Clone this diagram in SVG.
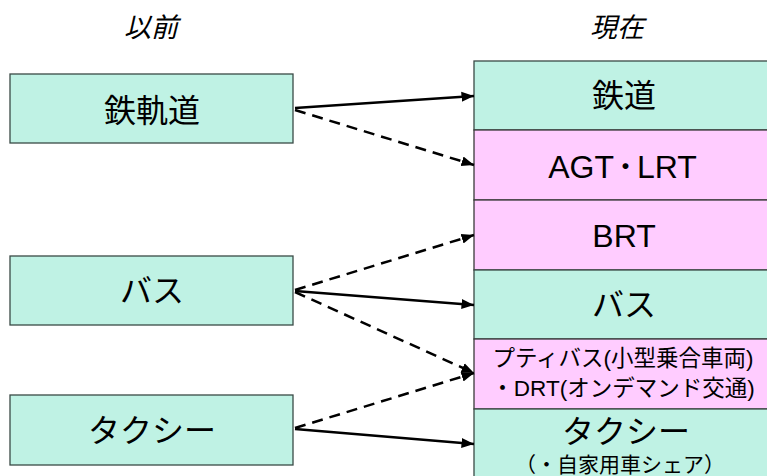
<svg xmlns="http://www.w3.org/2000/svg" width="767" height="476" viewBox="0 0 767 476">
<defs>
<style>
text{font-family:"Liberation Sans","Noto Sans CJK JP",sans-serif;fill:#000;text-anchor:middle}
.hd{font-size:27px;font-style:italic}
.t{font-size:32px}
.s{font-size:22.5px}
.s2{font-size:21px}
.g{fill:#BFF2E4;stroke:#3A4A46;stroke-width:1.3}
.p{fill:#FFCCFF;stroke:#3A3A3A;stroke-width:1.3}
.ln{stroke:#000;stroke-width:2.5;fill:none}
.d{stroke-dasharray:11,7}
</style>
<marker id="ah" viewBox="0 0 10 10" refX="10" refY="5" markerWidth="5" markerHeight="5" orient="auto" markerUnits="strokeWidth">
<path d="M0,1 L10,5 L0,9 Z" fill="#000"/>
</marker>
</defs>
<rect width="767" height="476" fill="#fff"/>
<text class="hd" x="151" y="37">以前</text>
<text class="hd" x="617" y="37">現在</text>
<g id="old-rail"><rect class="g" x="10" y="74" width="283" height="69"/><text class="t" x="152" y="122">鉄軌道</text></g>
<g id="old-bus"><rect class="g" x="10" y="256" width="283" height="69"/><text class="t" x="152" y="302">バス</text></g>
<g id="old-taxi"><rect class="g" x="10" y="395" width="283" height="70"/><text class="t" x="152" y="442">タクシー</text></g>
<g id="new-rail"><rect class="g" x="474" y="61" width="300" height="69"/><text class="t" x="624" y="107">鉄道</text></g>
<g id="new-agt"><rect class="p" x="474" y="130" width="300" height="70"/><text class="t" x="614" y="178" style="text-anchor:end">AGT</text><text x="614" y="175" style="text-anchor:start;font-size:23px;font-weight:bold">・</text><text class="t" x="637" y="178" style="text-anchor:start">LRT</text></g>
<g id="new-brt"><rect class="p" x="474" y="200" width="300" height="70"/><text class="t" x="624" y="247">BRT</text></g>
<g id="new-bus"><rect class="g" x="474" y="270" width="300" height="69"/><text class="t" x="624" y="316">バス</text></g>
<g id="new-petit"><rect class="p" x="474" y="339" width="300" height="70"/><text class="s" x="623" y="366">プティバス(小型乗合車両)</text><text class="s" x="623" y="396">・DRT(オンデマンド交通)</text></g>
<g id="new-taxi"><rect class="g" x="474" y="409" width="300" height="70"/><text class="t" x="626" y="443">タクシー</text><text class="s2" x="620" y="472">（・自家用車シェア）</text></g>
<g id="connectors">
<line class="ln" x1="295" y1="108" x2="474" y2="96" marker-end="url(#ah)"/>
<line class="ln d" x1="295" y1="110" x2="474" y2="165" marker-end="url(#ah)"/>
<line class="ln d" x1="295" y1="290" x2="474" y2="235" marker-end="url(#ah)"/>
<line class="ln" x1="295" y1="291" x2="474" y2="305" marker-end="url(#ah)"/>
<line class="ln d" x1="295" y1="292" x2="474" y2="373" marker-end="url(#ah)"/>
<line class="ln d" x1="295" y1="428" x2="474" y2="373" marker-end="url(#ah)"/>
<line class="ln" x1="295" y1="429" x2="474" y2="444" marker-end="url(#ah)"/>
</g>
</svg>
